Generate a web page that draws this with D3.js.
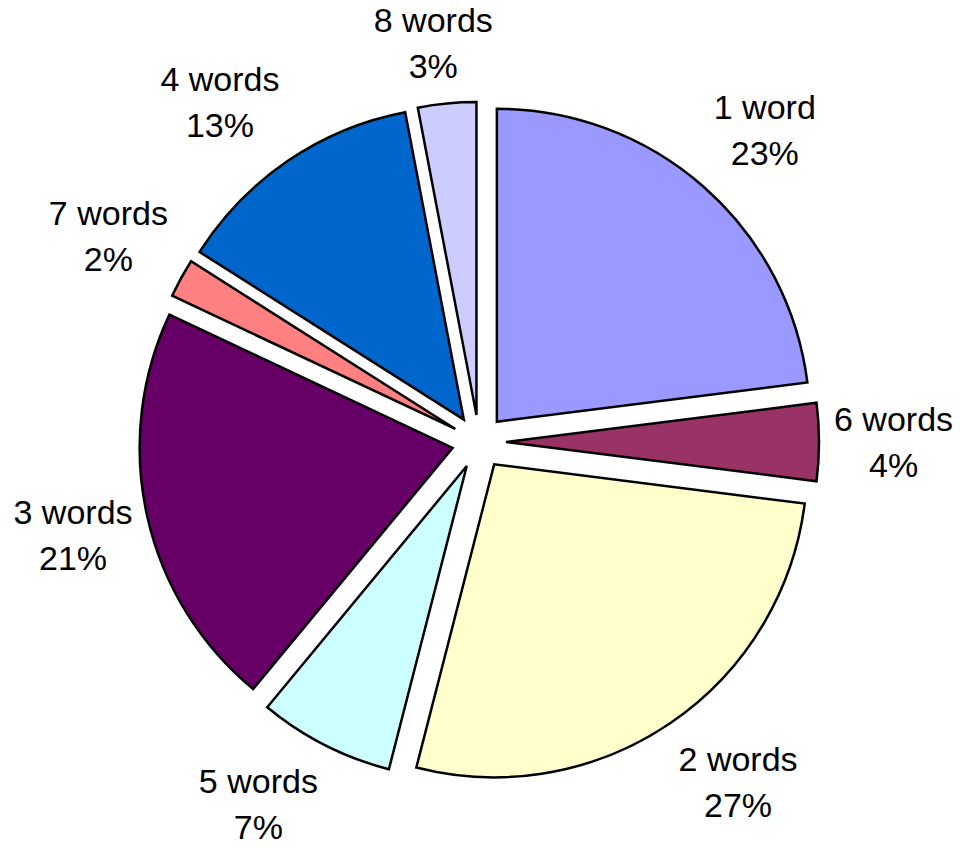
<!DOCTYPE html>
<html>
<head>
<meta charset="utf-8">
<script src="https://cdn.jsdelivr.net/npm/d3@7"></script>
<style>
  body { margin: 0; background: #fff; }
  svg text { font-family: "Liberation Sans", Arial, sans-serif; }
</style>
</head>
<body>
<div id="chart"></div>
<script>
// slices clockwise from 12 o'clock
var categories = ["1 word", "6 words", "2 words", "5 words", "3 words", "7 words", "4 words", "8 words"];
var values = [23, 4, 27, 7, 21, 2, 13, 3];
var colors = ["#9999FF", "#993366", "#FFFFCC", "#CCFFFF", "#660066", "#FF8080", "#0066CC", "#CCCCFF"];

var width = 961, height = 851;
var cx = 479, cy = 442;
var radius = 313, explode = 27, labelGap = 15;
var lineH = 46;

var svg = d3.select("#chart")
  .append("svg")
    .attr("width", width)
    .attr("height", height)
  .append("g")
    .attr("transform", "translate(" + cx + "," + cy + ")");

var data = categories.map(function(c, i) {
  return { name: c, value: values[i], color: colors[i] };
});

var total = d3.sum(values);

var pie = d3.pie()
  .sort(null)
  .value(function(d) { return d.value; });

var arc = d3.arc()
  .innerRadius(0)
  .outerRadius(radius);

var arcs = pie(data);

function dir(a) {
  var m = (a.startAngle + a.endAngle) / 2;
  return [Math.sin(m), -Math.cos(m)];
}

svg.selectAll("path.slice")
  .data(arcs)
  .enter()
  .append("path")
    .attr("class", "slice")
    .attr("d", arc)
    .attr("transform", function(d) {
      var v = dir(d);
      return "translate(" + (v[0] * explode) + "," + (v[1] * explode) + ")";
    })
    .attr("fill", function(d) { return d.data.color; })
    .attr("stroke", "#000")
    .attr("stroke-width", 2.5)
    .attr("stroke-linejoin", "miter");

var labels = svg.selectAll("g.label")
  .data(arcs)
  .enter()
  .append("g")
    .attr("class", "label");

labels.append("text")
  .attr("text-anchor", "middle")
  .attr("dominant-baseline", "central")
  .attr("y", -lineH / 2)
  .attr("font-size", 34)
  .attr("fill", "#000")
  .text(function(d) { return d.data.name; });

labels.append("text")
  .attr("text-anchor", "middle")
  .attr("dominant-baseline", "central")
  .attr("y", lineH / 2)
  .attr("font-size", 34)
  .attr("fill", "#000")
  .text(function(d) { return Math.round(d.data.value / total * 100) + "%"; });

// put the label box just outside the exploded slice, pushed away along its bisector
var r0 = radius + explode + labelGap;
labels.attr("transform", function(d) {
  var v = dir(d);
  var w = d3.max(d3.select(this).selectAll("text").nodes(), function(n) { return n.getComputedTextLength(); });
  var fx = Math.max(-1, Math.min(1, v[0] * 2.2));
  var fy = Math.max(-1, Math.min(1, v[1] * 1.6));
  var x = v[0] * r0 + fx * w / 2;
  var y = v[1] * r0 + fy * lineH;
  return "translate(" + x + "," + y + ")";
});
</script>
</body>
</html>
